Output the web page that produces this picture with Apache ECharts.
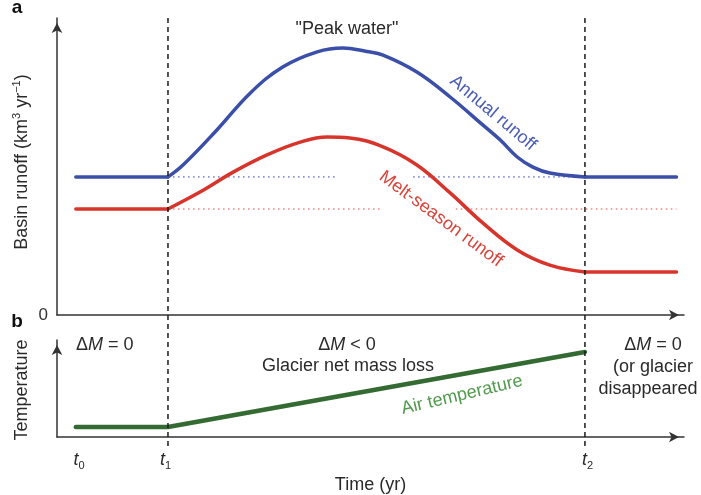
<!DOCTYPE html>
<html><head><meta charset="utf-8">
<script src="https://cdn.jsdelivr.net/npm/echarts@6/dist/echarts.min.js"></script>
<style>html,body{margin:0;padding:0;background:#fff}#c{width:701px;height:495px}</style>
</head><body><div id="c"></div>
<script>
// Time axis in arbitrary units (0..100)
const tStart = 3.0, t1 = 17.7, t2 = 84.2, tEnd = 98.8;
const tickPos = [3.5, 17.3, 84.6];
const tickNames = ['0', '1', '2'];

// Panel a: basin runoff (arbitrary units, 0..100)
const annualBase = 46.5;
const annualCurveX = [17.7, 20.1, 25.5, 30.8, 36.0, 41.5, 45.6, 49.4, 52.0, 57.4, 62.7, 67.9, 70.7, 73.4, 75.9, 78.6, 84.2];
const annualCurveY = [46.5, 50.5, 62.3, 74.7, 83.5, 88.6, 89.9, 88.7, 87.5, 81.8, 73.4, 64.0, 58.9, 53.2, 49.8, 47.8, 46.5];
const meltBase = 35.7, meltEnd = 14.5;
const meltCurveX = [17.7, 22.8, 28.1, 33.5, 38.8, 43.1, 46.7, 52.0, 57.4, 62.7, 67.9, 73.4, 78.6, 84.2];
const meltCurveY = [35.7, 41.4, 48.1, 53.9, 58.2, 59.9, 59.6, 56.6, 50.5, 41.1, 31.0, 21.9, 16.8, 14.5];
// dotted reference segments [from, to]
const annualRefSegs = [[17.7, 44.8], [56.8, 84.2]];
const meltRefSegs = [[17.7, 51.8], [63.6, 98.8]];

// Panel b: air temperature (arbitrary units, 0..100)
const tempX = [3.0, 17.7, 84.2];
const tempY = [10.4, 10.4, 87.7];

const zip = (xs, ys) => xs.map((x, i) => [x, ys[i]]);
const FONT = 'Liberation Sans, Arial, Helvetica, sans-serif';
const TXT = '#2a2a2a';
const BLUE = '#3b4ea8', RED = '#d7352c', GREEN = '#346b33';
const axLine = {color: '#333', width: 1.5};

function arrowAxis(extra) {
  return Object.assign({
    type: 'value',
    axisLine: {show: true, onZero: false, symbol: ['none', 'arrow'], symbolSize: [8, 10], symbolOffset: [0, -5], lineStyle: axLine},
    axisTick: {show: false}, axisLabel: {show: false}, splitLine: {show: false}
  }, extra);
}

const series = [];
function line(xi, data, color, width, opts) {
  series.push(Object.assign({
    type: 'line', xAxisIndex: xi, yAxisIndex: xi, data: data, symbol: 'none', silent: true,
    lineStyle: {color: color, width: width, cap: 'round', join: 'round'}
  }, opts || {}));
}
// dotted references
annualRefSegs.forEach(s => line(0, [[s[0], annualBase], [s[1], annualBase]], '#8a94d4', 1.6, {lineStyle: {color: '#8a94d4', width: 1.6, type: [1.6, 3.4]}}));
meltRefSegs.forEach(s => line(0, [[s[0], meltBase], [s[1], meltBase]], '#ec8a88', 1.6, {lineStyle: {color: '#ec8a88', width: 1.6, type: [1.6, 3.4]}}));
// runoff curves
line(0, [[tStart, annualBase], [t1, annualBase]], BLUE, 3.5);
line(0, zip(annualCurveX, annualCurveY), BLUE, 3.5, {smooth: 0.4});
line(0, [[t2, annualBase], [tEnd, annualBase]], BLUE, 3.5);
line(0, [[tStart, meltBase], [t1, meltBase]], RED, 3.5);
line(0, zip(meltCurveX, meltCurveY), RED, 3.5, {smooth: 0.4});
line(0, [[t2, meltEnd], [tEnd, meltEnd]], RED, 3.5);
// temperature
line(1, zip(tempX, tempY), GREEN, 4.5);
// dashed time markers
[t1, t2].forEach(t => line(2, [[t, 0], [t, 1]], '#1a1a1a', 1.5, {z: 5, lineStyle: {color: '#1a1a1a', width: 1.5, type: [5, 4]}}));

function txt(x, y, text, opts) {
  const o = opts || {};
  return {
    type: 'text', x: x, y: y, rotation: (o.rot || 0) * Math.PI / 180, silent: true, z: 10,
    style: Object.assign({text: text, fill: o.color || TXT, font: (o.weight || 'normal') + ' ' + (o.size || 18) + 'px ' + FONT,
      align: o.align || 'center', verticalAlign: 'middle'}, o.rich ? {rich: o.rich} : {})
  };
}
const supRich = {
  n: {fontSize: 18, fontFamily: FONT, color: TXT, lineHeight: 22},
  s: {fontSize: 11, fontFamily: FONT, color: TXT, verticalAlign: 'top'}
};
const dmRich = {
  n: {fontSize: 18, fontFamily: FONT, color: TXT},
  i: {fontSize: 18, fontFamily: FONT, color: TXT, fontStyle: 'italic'}
};

const graphic = [
  txt(17, 8, 'a', {weight: 'bold', size: 19, color: '#111'}),
  txt(17, 322, 'b', {weight: 'bold', size: 19, color: '#111'}),
  txt(22, 162, '{n|Basin runoff (km}{s|3}{n| yr}{s|−1}{n|)}', {rot: 90, rich: supRich}),
  txt(22, 390, 'Temperature', {rot: 90}),
  txt(347, 29, '"Peak water"'),
  txt(493, 113, 'Annual runoff', {rot: -40, color: '#4a5cb6'}),
  txt(441, 219, 'Melt-season runoff', {rot: -36.5, color: '#d9443b'}),
  txt(462, 395, 'Air temperature', {rot: 13.3, color: '#4f9a4c'}),
  txt(76, 345, '{n|Δ}{i|M}{n| = 0}', {align: 'left', rich: dmRich}),
  txt(347, 345, '{n|Δ}{i|M}{n| < 0}', {rich: dmRich}),
  txt(348, 366, 'Glacier net mass loss'),
  txt(653, 345, '{n|Δ}{i|M}{n| = 0}', {rich: dmRich}),
  txt(653, 367, '(or glacier'),
  txt(648, 389, 'disappeared')
];

const option = {
  animation: false,
  backgroundColor: '#fff',
  grid: [
    {left: 57, right: 17, top: 18, height: 297},
    {left: 57, right: 17, top: 340, height: 106},
    {left: 57, right: 17, top: 18, height: 428}
  ],
  xAxis: [
    arrowAxis({gridIndex: 0, min: 0, max: 100}),
    arrowAxis({gridIndex: 1, min: 0, max: 100,
      axisLabel: {show: true, customValues: tickPos, margin: 12,
        formatter: v => { const i = tickPos.indexOf(v); return i < 0 ? '' : '{t|t}{s|' + tickNames[i] + '}'; },
        rich: {t: {fontSize: 18, fontFamily: FONT, fontStyle: 'italic', color: TXT, lineHeight: 22},
               s: {fontSize: 11, fontFamily: FONT, color: TXT, verticalAlign: 'bottom'}}},
      name: 'Time (yr)', nameLocation: 'middle', nameGap: 39,
      nameTextStyle: {fontSize: 18, fontFamily: FONT, color: TXT}}),
    {gridIndex: 2, type: 'value', min: 0, max: 100, show: false}
  ],
  yAxis: [
    arrowAxis({gridIndex: 0, min: 0, max: 100,
      axisLabel: {show: true, customValues: [0], margin: 9, formatter: () => '0', fontSize: 17, fontFamily: FONT, color: '#333'}}),
    arrowAxis({gridIndex: 1, min: 0, max: 100}),
    {gridIndex: 2, type: 'value', min: 0, max: 1, show: false}
  ],
  series: series,
  graphic: graphic
};
const chart = echarts.init(document.getElementById('c'), null, {renderer: 'canvas'});
chart.setOption(option);
</script></body></html>
